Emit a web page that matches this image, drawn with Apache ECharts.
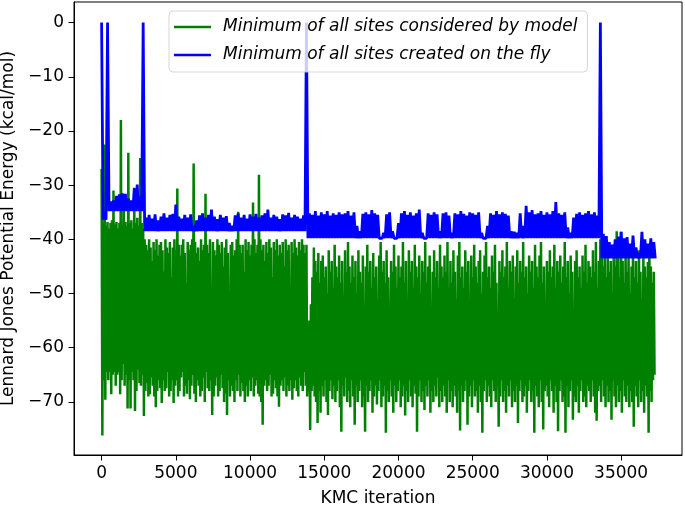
<!DOCTYPE html>
<html><head><meta charset="utf-8">
<script src="https://cdn.jsdelivr.net/npm/echarts@6/dist/echarts.min.js"></script>
<style>html,body{margin:0;padding:0;background:#fff}#c{width:685px;height:507px}</style>
</head><body><div id="c"></div>
<script>
// KMC iterations covered by one bin; each bin holds the upper and lower excursion of the trace
const greenStep = 100;
const blueStep = 200;

const seriesNames = ['Minimum of all sites considered by model', 'Minimum of all sites created on the fly'];

const greenHi = [
 -27, -37, -22.5, -37.5, -36.8, -38, -37, -36.5, -31, -37.2,
 -36.8, -38, -37, -18, -37.5, -33, -36.8, -37.5, -24, -37,
 -36.5, -38, -30.5, -37, -36, -37.5, -25, -37, -38, -40,
 -41, -42, -40, -41.5, -44, -40.5, -42, -40, -43, -41,
 -40.5, -42, -46, -40, -41.5, -42.5, -40.5, -47, -41.5, -40,
 -42, -30.6, -41, -43, -41, -40, -42.5, -48, -40.5, -42,
 -41, -40, -26, -40.5, -42.5, -41.5, -44, -40, -42, -41,
 -31.6, -41, -42.5, -40, -50, -40.5, -42, -43, -40, -41,
 -42.5, -40.5, -45, -41.5, -40, -42.5, -51, -41, -40.5, -43,
 -42, -40, -34.9, -41, -42.5, -41, -46, -40, -42, -40.5,
 -43, -41, -33.2, -40, -42.5, -41, -28.1, -40, -42, -41,
 -44, -40.5, -42.5, -40, -41.5, -47, -40.5, -42, -40, -43,
 -41, -42.5, -40.5, -45, -40, -42, -41, -49, -40.5, -42.5,
 -40, -41.5, -43, -40.5, -42, -40, -41, -42.5, -41, -56,
 -55, -52, -47, -41.5, -44, -46, -42.5, -48, -44, -43,
 -47, -45, -50, -42, -46, -44, -49, -41, -45, -47,
 -43, -48, -44, -52, -42, -46, -40.5, -45, -48, -43,
 -47, -44, -50, -42, -46, -48, -43, -55, -45, -41,
 -46, -44, -49, -42.5, -47, -45, -51, -43, -40.5, -46,
 -44, -48, -42, -47, -53, -44, -46, -41, -45, -49,
 -43, -47, -45, -40.5, -48, -44, -52, -42, -46, -44,
 -49, -41, -45, -47, -43, -50, -44, -46, -40.5, -48,
 -45, -43, -54, -46, -42, -47, -44, -49, -41, -45,
 -47, -43, -46, -40.5, -49, -44, -48, -42, -46, -51,
 -43, -40.5, -47, -45, -49, -42, -46, -44, -52, -43,
 -47, -41, -45, -48, -44, -42, -50, -46, -43, -40.5,
 -47, -45, -49, -43, -46, -41, -48, -55, -44, -46,
 -42, -47, -45, -40.5, -49, -44, -46, -43, -51, -45,
 -42, -48, -44, -46, -40.5, -47, -45, -50, -43, -46,
 -44, -49, -41, -45, -47, -43, -40.5, -48, -45, -52,
 -44, -46, -42, -47, -45, -41, -49, -44, -46, -43,
 -48, -45, -40.5, -47, -44, -50, -43, -46, -54, -44,
 -42, -47, -45, -49, -43, -46, -41, -48, -44, -45,
 -47, -42, -46, -40.5, -49, -44, -40, -41, -45, -43,
 -47, -42, -46, -44, -50, -41, -45, -38.5, -43, -47,
 -38.6, -44, -48, -42, -46, -43, -50, -45, -41, -47,
 -44, -48, -42, -46, -51, -43, -45, -47, -44.2, -41,
 -45, -48, -46
];
const greenLo = [
 -76.2, -66, -69.6, -64.5, -66, -64.5, -68.6, -65, -64.5, -67,
 -65, -64.5, -68.6, -66, -63, -67, -65, -71.2, -66, -71.2,
 -64.5, -66, -71.7, -68, -64, -66.5, -67, -65, -72.6, -68,
 -66.5, -69, -68.6, -65.5, -67, -69, -71, -68, -66, -67.5,
 -70.2, -66, -68, -67.5, -64.5, -69, -68, -66, -70.2, -67,
 -66, -69, -68, -65.5, -64.5, -69, -67, -68.5, -66, -69.5,
 -67, -65, -68.5, -70, -66, -67, -69, -68, -65.5, -70,
 -64.5, -67.5, -68, -66, -72.4, -69, -67, -65.5, -69, -68,
 -65, -67.5, -70, -68.5, -72.4, -66, -69, -67, -68, -70,
 -66, -68, -65, -69, -66.5, -68, -70, -67, -69, -66,
 -68, -65.5, -69, -67, -66, -68.5, -69, -70, -74.2, -67,
 -66, -68, -67, -65, -69, -68.5, -66, -67.5, -69, -70.9,
 -67, -66, -68, -65.5, -69, -67, -68, -66, -69.6, -67.5,
 -66, -68, -69, -65.5, -67, -68, -64.5, -67, -69, -68,
 -75.2, -68, -67, -69, -70, -73.9, -68, -72, -67, -69,
 -66, -70, -72.4, -68, -66, -69.5, -67, -70, -68, -66,
 -71, -75.5, -67, -69, -65.5, -70, -68, -71, -66, -69,
 -74.2, -67, -70, -68, -66, -71, -69, -75.5, -67, -70,
 -68, -66, -72, -69, -67, -70.5, -68, -66, -71, -69,
 -67, -75.7, -68, -70, -66, -69, -72, -67, -70, -68,
 -66, -71, -69, -67, -72.5, -68, -70, -66, -69, -71,
 -67, -68.5, -75.5, -69, -66, -70, -68, -71.5, -67, -69,
 -66, -72, -68, -70, -67, -69, -65.5, -71, -68, -70,
 -67, -69, -72, -66, -70, -68, -71, -67, -69, -72,
 -68, -75.3, -67, -70, -68, -66, -74.2, -69, -67, -71,
 -66, -69, -68, -72, -67, -70, -75.7, -68, -66, -70,
 -67, -69, -71, -66, -68, -70, -67, -74.6, -69, -66,
 -70, -68, -72, -67, -69, -66, -71, -68, -70, -67,
 -73.9, -68, -66, -70, -69, -67, -72, -68, -66, -70,
 -68, -75.7, -67, -69, -71, -66, -70, -75.1, -68, -67,
 -69, -71, -66, -68, -72, -67, -70, -75.4, -68, -66,
 -70, -69, -75.7, -67, -71, -68, -66, -73.3, -69, -70,
 -67, -72, -68, -66, -70, -69, -71, -67, -68, -70,
 -66, -69, -72, -73.5, -68, -67, -70, -66, -69, -71,
 -67, -70, -68, -73.3, -66, -69, -71, -67, -70, -68,
 -72, -66, -69, -70, -67, -71, -68, -70, -74.6, -67,
 -69, -71, -66, -70, -68, -72, -67, -69, -75.7, -68,
 -70, -66, -65
];
const blueHi = [
 0, -35, 0, -33, -32.8, -32, -31.7, -31.5, -31.6, -32.5,
 -32.8, -30.6, -29.9, -32, 0, -36, -35.5, -36.2, -35.4, -36.5,
 -35.8, -35.2, -36, -35.5, -35.3, -33.6, -35.8, -36.2, -35.5, -36,
 -35.4, -37.5, -36.5, -35.6, -35.2, -36, -35.5, -34.5, -35.8, -36.3,
 -35.5, -36, -35.7, -37, -37.5, -35.6, -35.2, -36, -35.5, -36.2,
 -35.4, -35.8, -35.3, -36, -35.6, -35.2, -34.5, -36, -35.5, -35.8,
 -36.3, -35.4, -35.6, -35.1, -36, -35.5, -35.8, -36.2, -35.6, 0,
 -35.2, -35.5, -34.8, -35.6, -35.0, -35.4, -34.8, -35.6, -35.2, -35.5,
 -35.0, -35.4, -35.2, -34.8, -35.6, -35.0, -37.5, -38.5, -35.3, -35.0,
 -35.4, -34.6, -35.2, -35.5, -39.8, -38.8, -35.4, -35.0, -38.5, -39.8,
 -37.0, -35.2, -34.8, -35.5, -35.0, -35.6, -35.2, -34.5, -38.8, -39.8,
 -35.2, -35.5, -35.0, -35.4, -38.5, -35.2, -35.0, -35.6, -38.8, -35.2,
 -35.4, -34.8, -35.3, -35.6, -35.0, -35.2, -35.5, -35.0, -38.8, -39.8,
 -37.5, -35.2, -35.5, -34.8, -35.4, -35.0, -35.3, -35.6, -38.5, -38.6,
 -38.8, -35.2, -37.5, -33.8, -35.0, -34.6, -35.4, -35.2, -34.8, -35.5,
 -35.0, -35.4, -34.8, -33.1, -35.2, -35.5, -35.0, -37.8, -38.8, -36.0,
 -35.3, -35.0, -35.5, -35.2, -34.8, -35.4, -35.0, -35.6, 0, -39.0,
 -39.4, -40.5, -41, -40, -39.5, -38.6, -39.8, -39.6, -40.8, -39.3,
 -41.5, -42.5, -38.6, -40, -40.8, -39.8, -40.5
];
const blueLo = [
 -36.4, -36.4, -34.8, -34.8, -34.8, -34.8, -34.8, -34.8, -34.8, -34.8,
 -34.8, -34.8, -34.8, -34.8, -38.5, -38.5, -38.5, -38.5, -38.5, -38.5,
 -38.5, -38.5, -38.5, -38.5, -38.5, -38.5, -38.5, -38.5, -38.5, -38.5,
 -38.5, -38.5, -38.5, -38.5, -38.5, -38.5, -38.5, -38.5, -38.5, -38.5,
 -38.5, -38.5, -38.5, -38.5, -38.5, -38.5, -38.5, -38.5, -38.5, -38.5,
 -38.5, -38.5, -38.5, -38.5, -38.5, -38.5, -38.5, -38.5, -38.5, -38.5,
 -38.5, -38.5, -38.5, -38.5, -38.5, -38.5, -38.5, -38.5, -38.5, -39.8,
 -39.8, -39.8, -39.8, -39.8, -39.8, -39.8, -39.8, -39.8, -39.8, -39.8,
 -39.8, -39.8, -39.8, -39.8, -39.8, -39.8, -39.8, -39.8, -39.8, -39.8,
 -39.8, -39.8, -39.8, -39.8, -39.8, -39.8, -39.8, -39.8, -39.8, -39.8,
 -39.8, -39.8, -39.8, -39.8, -39.8, -39.8, -39.8, -39.8, -39.8, -39.8,
 -39.8, -39.8, -39.8, -39.8, -39.8, -39.8, -39.8, -39.8, -39.8, -39.8,
 -39.8, -39.8, -39.8, -39.8, -39.8, -39.8, -39.8, -39.8, -39.8, -39.8,
 -39.8, -39.8, -39.8, -39.8, -39.8, -39.8, -39.8, -39.8, -39.8, -39.8,
 -39.8, -39.8, -39.8, -39.8, -39.8, -39.8, -39.8, -39.8, -39.8, -39.8,
 -39.8, -39.8, -39.8, -39.8, -39.8, -39.8, -39.8, -39.8, -39.8, -39.8,
 -39.8, -39.8, -39.8, -39.8, -39.8, -39.8, -39.8, -39.8, -43.5, -43.5,
 -43.5, -43.5, -43.5, -43.5, -43.5, -43.5, -43.5, -43.5, -43.5, -43.5,
 -43.5, -43.5, -43.5, -43.5, -43.5, -43.5, -43.5
];

const xTicks = [0, 5000, 10000, 15000, 20000, 25000, 30000, 35000];
const yTicks = [0, -10, -20, -30, -40, -50, -60, -70];

function zigzag(hi, lo, step) {
  const out = [];
  for (let i = 0; i < hi.length; i++) {
    out.push([i * step, hi[i]]);
    out.push([i * step + step / 2, lo[i]]);
  }
  return out;
}

const FONT = "'DejaVu Sans', sans-serif";
const FS = 17;
const fmtMinus = v => v < 0 ? '\u2212' + Math.abs(v) : String(v);

const chart = echarts.init(document.getElementById('c'), null, {renderer: 'canvas'});
chart.setOption({
  animation: false,
  backgroundColor: '#fff',
  grid: {left: 74, right: 3, top: 2, bottom: 52, containLabel: false, outerBoundsMode: 'none',
         show: true, borderColor: '#000', borderWidth: 1, backgroundColor: 'transparent'},
  xAxis: {
    type: 'value', min: -1860, max: 39100,
    name: 'KMC iteration', nameLocation: 'middle', nameGap: 35,
    nameTextStyle: {fontFamily: FONT, fontSize: FS, color: '#000'},
    axisLine: {show: true, onZero: false, lineStyle: {color: '#000', width: 1}},
    axisTick: {show: true, inside: false, length: 5.5, customValues: xTicks, lineStyle: {color: '#000', width: 1}},
    axisLabel: {customValues: xTicks, formatter: v => String(v), fontFamily: FONT, fontSize: FS, color: '#000', margin: 10},
    splitLine: {show: false}
  },
  yAxis: {
    type: 'value', min: -79.8, max: 3.8,
    name: 'Lennard Jones Potential Energy (kcal/mol)', nameLocation: 'middle', nameGap: 53,
    nameTextStyle: {fontFamily: FONT, fontSize: FS, color: '#000'},
    axisLine: {show: true, onZero: false, lineStyle: {color: '#000', width: 1}},
    axisTick: {show: true, inside: false, length: 5.5, customValues: yTicks, lineStyle: {color: '#000', width: 1}},
    axisLabel: {customValues: yTicks, formatter: fmtMinus, fontFamily: FONT, fontSize: FS, color: '#000', margin: 10},
    splitLine: {show: false}
  },
  legend: {
    orient: 'vertical', left: 169, top: 11, align: 'left',
    icon: 'rect', itemWidth: 37, itemHeight: 2.5, itemGap: 8,
    padding: [6, 10, 7, 5],
    backgroundColor: 'rgba(255,255,255,0.8)', borderColor: 'rgba(204,204,204,0.8)', borderWidth: 1, borderRadius: 4,
    textStyle: {fontFamily: FONT, fontSize: FS, fontStyle: 'italic', color: '#000', lineHeight: 20, padding: [0, 0, 0, 7]},
    data: seriesNames
  },
  series: [
    {name: seriesNames[0], type: 'line', data: zigzag(greenHi, greenLo, greenStep), symbol: 'none', showSymbol: false,
     lineStyle: {color: '#008000', width: 2.5}, itemStyle: {color: '#008000'}, z: 2, silent: true},
    {name: seriesNames[1], type: 'line', data: zigzag(blueHi, blueLo, blueStep), symbol: 'none', showSymbol: false,
     lineStyle: {color: '#0000ff', width: 2.8}, itemStyle: {color: '#0000ff'}, z: 3, silent: true}
  ]
});
</script>
</body></html>
